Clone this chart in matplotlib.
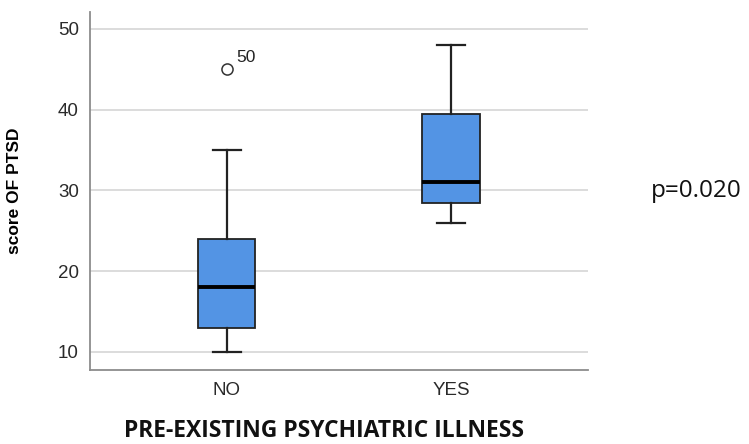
import matplotlib
matplotlib.use("Agg")
import matplotlib.pyplot as plt

# Summary statistics for PTSD score by group
groups = ["NO", "YES"]
q1 = [13, 28.5]
medians = [18, 31]
q3 = [24, 39.5]
whisker_low = [10, 26]
whisker_high = [35, 48]
outliers = [[45], []]
outlier_ids = [["50"], []]
p_text = "p=0.020"

box_color = "#5394e4"
grid_color = "#d9d9d9"
axis_color = "#8c8c8c"

stats = []
for i, g in enumerate(groups):
    stats.append({
        "label": g,
        "q1": q1[i], "med": medians[i], "q3": q3[i],
        "whislo": whisker_low[i], "whishi": whisker_high[i],
        "fliers": outliers[i],
    })

fig = plt.figure(figsize=(7.49, 4.44), dpi=100)
ax = fig.add_axes([0.120, 0.1667, 0.665, 0.806])

positions = [1, 2]
ax.bxp(stats, positions=positions, widths=0.255, patch_artist=True,
       boxprops=dict(facecolor=box_color, edgecolor="#222222", linewidth=1.3),
       medianprops=dict(color="black", linewidth=2.8),
       whiskerprops=dict(color="#222222", linewidth=1.6),
       capprops=dict(color="#222222", linewidth=1.6),
       capwidths=0.125,
       flierprops=dict(marker="o", markerfacecolor="white", markeredgecolor="#333333",
                       markersize=8, markeredgewidth=1.1),
       zorder=3)

# outlier case numbers
for pos, vals, ids in zip(positions, outliers, outlier_ids):
    for v, lab in zip(vals, ids):
        ax.annotate(lab, (pos, v), xytext=(7, 5), textcoords="offset points",
                    fontsize=12.5, family="Liberation Sans", color="#222222")

ax.set_xlim(0.389, 2.611)
ax.set_ylim(7.77, 52.07)
ax.set_yticks([10, 20, 30, 40, 50])
ax.yaxis.grid(True, color=grid_color, linewidth=1.3, zorder=0)
ax.set_axisbelow(True)

for side in ["top", "right"]:
    ax.spines[side].set_visible(False)
for side in ["left", "bottom"]:
    ax.spines[side].set_color(axis_color)
    ax.spines[side].set_linewidth(1.3)

ax.tick_params(length=0, labelsize=13.5, colors="#2a2a2a")
ax.tick_params(axis="y", pad=8)
ax.tick_params(axis="x", pad=9)
for lab in ax.get_xticklabels() + ax.get_yticklabels():
    lab.set_family("Liberation Sans")

ax.set_ylabel("score OF PTSD", fontsize=12.5, fontweight="bold",
              family="Liberation Sans")
ax.yaxis.set_label_coords(-0.137, 0.5)

fig.text(324 / 749, 1 / 444, "PRE-EXISTING PSYCHIATRIC ILLNESS", ha="center",
         va="bottom", fontsize=16.5, fontweight="bold", family="Open Sans",
         color="#111111")
fig.text(651 / 749, 1 - 191 / 444, p_text, ha="left", va="center", fontsize=17.5,
         family="Open Sans", color="#111111")

fig.savefig("out.png", dpi=100)
